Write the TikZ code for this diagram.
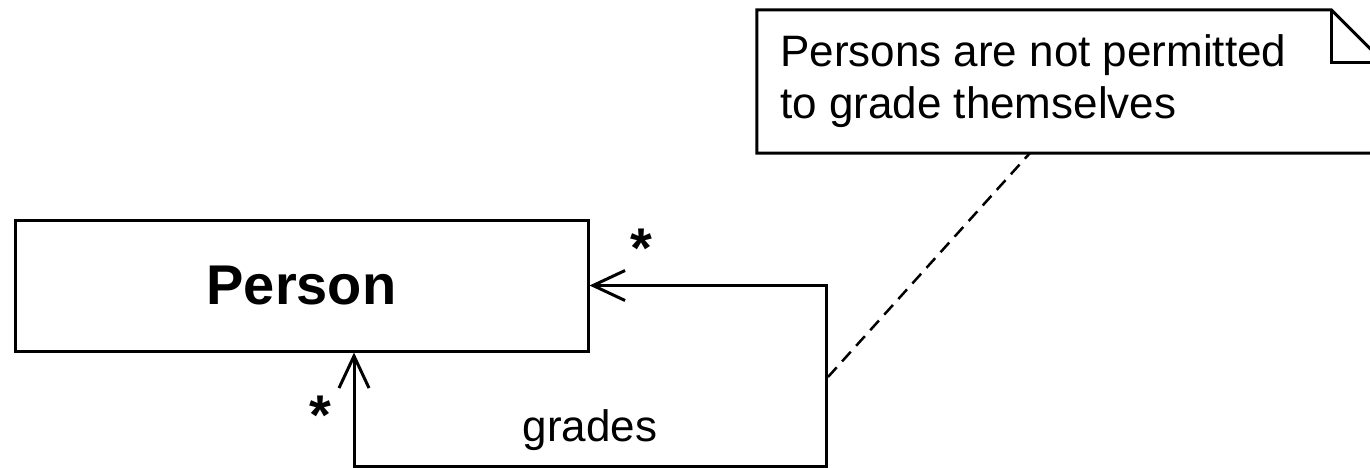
\documentclass[tikz,border=0pt]{standalone}
\usepackage{fontspec}
\setmainfont{Liberation Sans}
\usetikzlibrary{arrows.meta}
\begin{document}
\begin{tikzpicture}[x=1pt,y=-1pt,
  line join=miter,
  umlbox/.style={draw=black,line width=3pt,minimum width=573pt,minimum height=131pt,inner sep=0pt},
  assoc/.style={draw=black,line width=3pt,{Straight Barb[length=32pt,width=30pt,line width=3pt]}-{Straight Barb[length=32pt,width=30pt,line width=3pt]}},
  noteline/.style={draw=black,line width=3pt},
  anchorline/.style={draw=black,line width=2.5pt,dash pattern=on 13pt off 8pt},
  mult/.style={font=\fontsize{56}{56}\selectfont\bfseries,inner sep=0pt},
  lbl/.style={font=\fontsize{44}{44}\selectfont,inner sep=0pt}
]
\useasboundingbox (0,0) rectangle (1370,468);
\clip (0,0) rectangle (1370,468);
% Person class
\node[umlbox,font=\fontsize{56}{56}\selectfont\bfseries] (person) at (301.5,285.5) {Person};
% note
\node[minimum width=627pt,minimum height=143pt,inner sep=0pt] (note) at (1070.5,81.5) {};
\node[lbl,anchor=west,align=left,font=\fontsize{44}{52}\selectfont] (notetext) at (780,81) {Persons are not permitted\\to grade themselves};
\draw[noteline] (note.south west) -- (note.north west) -- ([xshift=-53pt]note.north east) -- ([yshift=-53pt]note.north east) -- (note.south east) -- cycle;
\draw[noteline] ([xshift=-53pt]note.north east) -- ([xshift=-53pt,yshift=-53pt]note.north east) -- ([yshift=-53pt]note.north east);
% association
\coordinate (bl) at (354,466);
\coordinate (br) at (826,466);
\draw[assoc] (person.south -| bl) -- (bl) -- (br) |- (person.east);
\node[mult] (m1) at (641,248) {*};
\node[mult] (m2) at (320,415) {*};
\node[lbl] (grades) at (590,430) {grades};
% anchor line
\coordinate (da) at (828,377);
\coordinate (db) at (1030,153);
\draw[anchorline] (da) -- (db);
\end{tikzpicture}
\end{document}
